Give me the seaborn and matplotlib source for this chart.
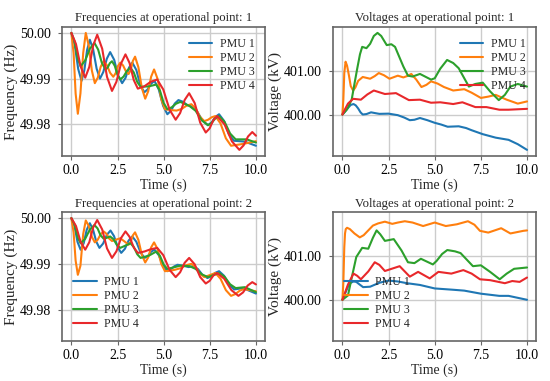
#!/usr/bin/env python3
"""Frequency and voltage traces of four PMUs at two operational points."""

import pandas as pd
import matplotlib.pyplot as plt
from matplotlib.ticker import FormatStrFormatter
import seaborn as sns

OUTPUT_FILE = "out.png"

PMUS = ["PMU 1", "PMU 2", "PMU 3", "PMU 4"]
COLORS = ["#1f77b4", "#ff7f0e", "#2ca02c", "#e8282b"]

# Frequency, operational point 1 (Hz)
FREQ1_T1 = [0, 0.18, 0.37, 0.55, 0.70, 0.85, 1.0, 1.18, 1.37, 1.55, 1.73, 1.92,
            2.1, 2.32, 2.53, 2.75, 2.93, 3.12, 3.3, 3.52, 3.73, 3.95, 4.13,
            4.32, 4.5, 4.73, 4.97, 5.2, 5.4, 5.6, 5.8, 6.03, 6.27, 6.5, 6.8,
            7.1, 7.4, 7.6, 7.8, 8.0, 8.27, 8.53, 8.8, 9.4, 10.0]
FREQ1_V1 = [50.000, 49.9974, 49.9921, 49.9895, 49.99175, 49.99625, 49.9985,
            49.99638, 49.99213, 49.990, 49.99145, 49.99435, 49.9958, 49.9941,
            49.9907, 49.989, 49.99013, 49.99238, 49.9935, 49.99188, 49.98863,
            49.987, 49.98763, 49.98888, 49.9895, 49.98768, 49.98403, 49.9822,
            49.98298, 49.98453, 49.9853, 49.98495, 49.98425, 49.9839,
            49.98288, 49.98083, 49.9798, 49.9804, 49.9816, 49.9822, 49.98075,
            49.97785, 49.9764, 49.9762, 49.9753]
FREQ1_T2 = [0, 0.12, 0.23, 0.35, 0.49, 0.64, 0.78, 0.94, 1.11, 1.27, 1.43, 1.59,
            1.75, 1.92, 2.1, 2.27, 2.4, 2.52, 2.65, 2.8, 2.95, 3.1, 3.22, 3.33,
            3.45, 3.63, 3.82, 4.0, 4.16, 4.32, 4.48, 4.68, 4.87, 5.07, 5.4,
            5.7, 5.97, 6.23, 6.5, 6.73, 6.97, 7.2, 7.4, 7.6, 7.8, 8.08, 8.37,
            8.65, 9.3, 10.0]
FREQ1_V2 = [50.000, 49.99558, 49.98673, 49.9823, 49.98673, 49.99558, 50.000,
            49.99725, 49.99175, 49.989, 49.9902, 49.9926, 49.9938, 49.99295,
            49.99125, 49.9904, 49.99118, 49.99273, 49.9935, 49.99288, 49.99163,
            49.991, 49.99195, 49.99385, 49.9948, 49.9925, 49.9879, 49.9856,
            49.9872, 49.9904, 49.992, 49.98983, 49.98548, 49.9833, 49.9831,
            49.983, 49.98335, 49.98405, 49.9844, 49.98348, 49.98163, 49.9807,
            49.98098, 49.98153, 49.9818, 49.98018, 49.97693, 49.9753, 49.9757,
            49.9763]
FREQ1_T3 = [0, 0.17, 0.33, 0.5, 0.75, 1.0, 1.25, 1.45, 1.65, 1.85, 1.97, 2.08,
            2.2, 2.35, 2.5, 2.65, 2.83, 3.02, 3.2, 3.38, 3.57, 3.75, 4.2, 4.6,
            4.8, 5.0, 5.2, 5.43, 5.67, 5.9, 6.4, 6.73, 7.07, 7.4, 7.6, 7.8,
            8.0, 8.3, 8.6, 8.9, 9.5, 10.0]
FREQ1_V3 = [50.000, 49.99818, 49.99453, 49.9927, 49.99398, 49.99653, 49.9978,
            49.99635, 49.99345, 49.992, 49.99245, 49.99335, 49.9938, 49.9928,
            49.9908, 49.9898, 49.99045, 49.99175, 49.9924, 49.99135, 49.98925,
            49.9882, 49.9883, 49.9887, 49.98735, 49.98465, 49.9833, 49.9837,
            49.9845, 49.9849, 49.9840, 49.98295, 49.98085, 49.9798, 49.9803,
            49.9813, 49.9818, 49.98053, 49.97798, 49.9767, 49.9767, 49.976]
FREQ1_T4 = [0, 0.25, 0.5, 0.75, 0.97, 1.18, 1.4, 1.67, 1.93, 2.2, 2.44, 2.69,
            2.93, 3.15, 3.38, 3.6, 3.95, 4.3, 4.65, 4.98, 5.32, 5.65, 5.89,
            6.14, 6.38, 6.68, 6.98, 7.28, 7.49, 7.69, 7.9, 8.3, 8.7, 9.1, 9.33,
            9.57, 9.8, 10.0]
FREQ1_V4 = [50.000, 49.99755, 49.99265, 49.9902, 49.99255, 49.99725, 49.9996,
            49.99653, 49.99038, 49.9873, 49.9893, 49.9933, 49.9953, 49.99343,
            49.98968, 49.9878, 49.9883, 49.9893, 49.9898, 49.9876, 49.9832,
            49.981, 49.98245, 49.98535, 49.9868, 49.98465, 49.98035, 49.9782,
            49.9791, 49.9809, 49.9818, 49.97995, 49.97625, 49.9744, 49.97538,
            49.97733, 49.9783, 49.9775]

# Frequency, operational point 2 (Hz)
FREQ2_T1 = [0, 0.17, 0.33, 0.5, 0.67, 0.83, 1.0, 1.17, 1.35, 1.52, 1.72, 1.92,
            2.12, 2.31, 2.51, 2.7, 2.9, 3.1, 3.3, 3.52, 3.75, 3.97, 4.15, 4.32,
            4.5, 4.73, 4.97, 5.2, 5.38, 5.57, 5.75, 6.05, 6.35, 6.6, 6.86,
            7.11, 7.37, 7.58, 7.79, 8.0, 8.27, 8.55, 8.82, 9.3, 10.0]
FREQ2_V1 = [50.000, 49.99828, 49.99483, 49.9931, 49.99455, 49.99745, 49.9989,
            49.99755, 49.99485, 49.9935, 49.99445, 49.99635, 49.9973,
            49.99608, 49.99363, 49.9924, 49.9933, 49.9951, 49.996, 49.99483,
            49.99248, 49.9913, 49.99175, 49.99265, 49.9931, 49.99193, 49.98958,
            49.9884, 49.98875, 49.98945, 49.9898, 49.9896, 49.9893, 49.9895,
            49.98885, 49.98755, 49.9869, 49.98728, 49.98803, 49.9884, 49.9874,
            49.9854, 49.9844, 49.9847, 49.9835]
FREQ2_T2 = [0, 0.12, 0.23, 0.35, 0.49, 0.64, 0.78, 0.94, 1.11, 1.27, 1.43, 1.59,
            1.75, 1.9, 2.05, 2.2, 2.42, 2.65, 2.88, 3.1, 3.22, 3.33, 3.45, 3.63,
            3.82, 4.0, 4.16, 4.32, 4.48, 4.68, 4.87, 5.07, 5.33, 5.6, 5.9, 6.2,
            6.5, 6.73, 6.97, 7.2, 7.5, 7.8, 8.08, 8.37, 8.65, 8.88, 9.12, 9.35,
            10.0]
FREQ2_V2 = [50.000, 49.9969, 49.9907, 49.9876, 49.98958, 49.99653, 49.9995,
            49.9983, 49.9959, 49.9947, 49.9953, 49.9965, 49.9971, 49.99658,
            49.99553, 49.995, 49.9953, 49.9956, 49.9949, 49.9942, 49.99488,
            49.99623, 49.9969, 49.99525, 49.99195, 49.9903, 49.9914, 49.9936,
            49.9947, 49.99313, 49.98998, 49.9884, 49.9885, 49.9887, 49.98903,
            49.98968, 49.990, 49.98928, 49.98783, 49.9871, 49.98755, 49.988,
            49.98675, 49.98425, 49.983, 49.98338, 49.98413, 49.9845, 49.984]
FREQ2_T3 = [0, 0.17, 0.33, 0.5, 0.75, 1.0, 1.25, 1.42, 1.58, 1.75, 1.92, 2.1,
            2.28, 2.47, 2.65, 2.93, 3.2, 3.38, 3.57, 3.75, 4.2, 4.6, 4.8, 5.0,
            5.2, 5.55, 5.9, 6.4, 6.73, 7.07, 7.4, 7.7, 8.0, 8.3, 8.6, 8.9, 9.4,
            10.0]
FREQ2_V3 = [50.000, 49.99863, 49.99588, 49.9945, 49.9955, 49.9975, 49.9985,
            49.99775, 49.99625, 49.9955, 49.9957, 49.996, 49.99538, 49.99413,
            49.9935, 49.994, 49.9945, 49.9937, 49.9921, 49.9913, 49.9918,
            49.9927, 49.99175, 49.98985, 49.9889, 49.98925, 49.9896, 49.9895,
            49.9889, 49.9877, 49.9871, 49.98755, 49.988, 49.98718, 49.98553,
            49.9847, 49.9849, 49.9838]
FREQ2_T4 = [0, 0.25, 0.5, 0.75, 0.97, 1.18, 1.4, 1.67, 1.93, 2.2, 2.44, 2.69,
            2.93, 3.15, 3.38, 3.6, 3.95, 4.3, 4.65, 4.98, 5.32, 5.65, 5.89,
            6.14, 6.38, 6.68, 6.98, 7.28, 7.49, 7.69, 7.9, 8.28, 8.67, 9.05,
            9.3, 9.55, 9.8, 10.0]
FREQ2_V4 = [50.000, 49.99828, 49.99483, 49.9931, 49.99473, 49.99798, 49.9996,
            49.99753, 49.99338, 49.9913, 49.99275, 49.99565, 49.9971, 49.99593,
            49.99358, 49.9924, 49.9927, 49.9932, 49.9935, 49.9919, 49.9887,
            49.9871, 49.98815, 49.99025, 49.9913, 49.9899, 49.9871, 49.9857,
            49.98628, 49.98743, 49.988, 49.98675, 49.98425, 49.983, 49.98375,
            49.98525, 49.986, 49.9855]

# Voltage, operational point 1 (kV)
VOLT1_T1 = [0, 0.15, 0.3, 0.45, 0.6, 0.72, 0.85, 0.98, 1.1, 1.3, 1.55, 1.8,
            2.0, 2.5, 3.0, 3.35, 3.65, 3.9, 4.2, 4.6, 5.0, 5.35, 5.7, 6.3, 6.7,
            7.0, 7.6, 8.3, 9.0, 9.5, 10.0]
VOLT1_V1 = [400.00, 400.07, 400.15, 400.22, 400.24, 400.21, 400.14, 400.05,
            400.00, 400.01, 400.05, 400.03, 400.015, 400.02, 399.985, 399.93,
            399.87, 399.88, 399.92, 399.87, 399.81, 399.77, 399.72, 399.73,
            399.69, 399.64, 399.55, 399.47, 399.42, 399.32, 399.19]
VOLT1_T2 = [0, 0.05, 0.1, 0.17, 0.25, 0.35, 0.45, 0.58, 0.7, 0.85, 1.1, 1.3,
            1.5, 1.75, 1.97, 2.25, 2.55, 3.0, 3.3, 3.5, 3.73, 4.0, 4.28, 4.55,
            4.8, 5.15, 5.5, 6.0, 6.6, 7.0, 7.5, 7.9, 8.3, 8.9, 9.5, 10.0]
VOLT1_V2 = [400.00, 400.35, 400.95, 401.21, 401.12, 400.90, 400.65, 400.55,
            400.62, 400.77, 400.86, 400.84, 400.82, 400.88, 400.95, 400.90,
            400.82, 400.89, 400.85, 400.88, 400.93, 400.80, 400.63, 400.68,
            400.76, 400.71, 400.63, 400.55, 400.58, 400.50, 400.38, 400.41,
            400.45, 400.34, 400.25, 400.30]
VOLT1_T3 = [0, 0.25, 0.5, 0.65, 0.8, 0.95, 1.07, 1.3, 1.5, 1.7, 1.9, 2.1, 2.4,
            2.65, 2.85, 3.0, 3.3, 3.55, 3.8, 4.2, 4.8, 5.0, 5.3, 5.67, 6.0,
            6.3, 6.85, 7.2, 7.6, 8.0, 8.47, 8.8, 9.1, 9.5, 10.0]
VOLT1_V3 = [400.00, 400.12, 400.34, 400.70, 401.05, 401.38, 401.55, 401.52,
            401.62, 401.80, 401.87, 401.80, 401.59, 401.61, 401.55, 401.40,
            401.10, 400.89, 400.87, 400.93, 400.80, 400.83, 401.05, 401.25,
            401.18, 401.06, 400.64, 400.70, 400.73, 400.53, 400.33, 400.45,
            400.64, 400.70, 400.64]
VOLT1_T4 = [0, 0.15, 0.3, 0.58, 1.0, 1.35, 1.7, 2.0, 2.3, 2.9, 3.25, 3.6, 4.2,
            4.8, 5.3, 6.0, 6.5, 7.2, 7.8, 8.5, 9.0, 10.0]
VOLT1_V4 = [400.00, 400.13, 400.25, 400.36, 400.34, 400.46, 400.55, 400.51,
            400.47, 400.49, 400.41, 400.33, 400.34, 400.27, 400.28, 400.24,
            400.28, 400.17, 400.17, 400.11, 400.11, 400.13]

# Voltage, operational point 2 (kV)
VOLT2_T1 = [0, 0.15, 0.3, 0.45, 0.6, 0.75, 0.9, 1.12, 1.5, 2.0, 2.5, 3.0, 3.5,
            4.2, 5.0, 6.0, 6.6, 7.5, 8.5, 9.0, 10.0]
VOLT2_V1 = [400.00, 400.15, 400.30, 400.39, 400.42, 400.41, 400.36, 400.29,
            400.30, 400.39, 400.44, 400.42, 400.38, 400.34, 400.26, 400.23,
            400.21, 400.14, 400.09, 400.09, 400.00]
VOLT2_T2 = [0, 0.05, 0.1, 0.14, 0.18, 0.25, 0.4, 0.65, 0.94, 1.15, 1.4, 1.65,
            1.93, 2.3, 2.7, 3.0, 3.38, 3.8, 4.37, 5.0, 5.6, 6.2, 6.8, 7.15,
            7.45, 7.9, 8.6, 9.1, 9.8, 10.0]
VOLT2_V2 = [400.00, 400.40, 401.20, 401.52, 401.62, 401.65, 401.62, 401.52,
            401.43, 401.48, 401.59, 401.70, 401.75, 401.79, 401.74, 401.77,
            401.80, 401.77, 401.69, 401.77, 401.69, 401.73, 401.80, 401.72,
            401.58, 401.54, 401.64, 401.52, 401.58, 401.59]
VOLT2_T3 = [0, 0.3, 0.5, 0.75, 1.07, 1.4, 1.65, 1.85, 2.05, 2.3, 2.78, 3.2,
            3.55, 3.9, 4.25, 4.9, 5.1, 5.4, 5.68, 6.1, 6.4, 7.07, 7.5, 8.0,
            8.52, 8.9, 9.3, 10.0]
VOLT2_V3 = [400.00, 400.10, 400.50, 400.98, 401.19, 401.17, 401.42, 401.59,
            401.50, 401.35, 401.39, 401.13, 400.86, 400.84, 400.94, 400.81,
            400.89, 401.05, 401.14, 401.11, 401.07, 400.77, 400.79, 400.64,
            400.47, 400.60, 400.71, 400.74]
VOLT2_T4 = [0, 0.3, 0.6, 0.8, 1.0, 1.4, 1.75, 2.0, 2.3, 3.1, 3.65, 4.1, 4.73,
            5.2, 5.9, 6.55, 7.0, 7.45, 8.0, 8.8, 9.2, 9.6, 10.0]
VOLT2_V4 = [400.00, 400.35, 400.60, 400.55, 400.47, 400.65, 400.86, 400.80,
            400.66, 400.77, 400.53, 400.64, 400.49, 400.64, 400.60, 400.68,
            400.60, 400.47, 400.45, 400.38, 400.43, 400.41, 400.51]

PANELS = [
    ("Frequencies at operational point: 1", "Frequency (Hz)",
     [FREQ1_T1, FREQ1_T2, FREQ1_T3, FREQ1_T4],
     [FREQ1_V1, FREQ1_V2, FREQ1_V3, FREQ1_V4], "upper right"),
    ("Voltages at operational point: 1", "Voltage (kV)",
     [VOLT1_T1, VOLT1_T2, VOLT1_T3, VOLT1_T4],
     [VOLT1_V1, VOLT1_V2, VOLT1_V3, VOLT1_V4], "upper right"),
    ("Frequencies at operational point: 2", "Frequency (Hz)",
     [FREQ2_T1, FREQ2_T2, FREQ2_T3, FREQ2_T4],
     [FREQ2_V1, FREQ2_V2, FREQ2_V3, FREQ2_V4], "lower left"),
    ("Voltages at operational point: 2", "Voltage (kV)",
     [VOLT2_T1, VOLT2_T2, VOLT2_T3, VOLT2_T4],
     [VOLT2_V1, VOLT2_V2, VOLT2_V3, VOLT2_V4], "lower left"),
]

sns.set_style("whitegrid", {"axes.edgecolor": "0.4", "grid.color": "0.8",
                            "xtick.bottom": True, "ytick.left": True})
plt.rcParams['font.family'] = ['Liberation Serif', 'DejaVu Serif']
plt.rcParams['axes.linewidth'] = 1.2
plt.rcParams['grid.linewidth'] = 1.0
plt.rcParams['xtick.color'] = '0.4'
plt.rcParams['ytick.color'] = '0.4'
plt.rcParams['xtick.labelcolor'] = 'black'
plt.rcParams['ytick.labelcolor'] = 'black'


def make_frame(times, values):
    """Stack the four PMU series into one long table."""
    parts = []
    for name, t, v in zip(PMUS, times, values):
        parts.append(pd.DataFrame({"Time": t, "Value": v, "PMU": name}))
    return pd.concat(parts, ignore_index=True)


def main():
    fig, axes = plt.subplots(2, 2, figsize=(5.5, 3.81), dpi=100, sharey='col')
    fig.subplots_adjust(left=0.113, right=0.975, top=0.929, bottom=0.105,
                        wspace=0.335, hspace=0.44)
    for ax, (title, ylabel, times, values, loc) in zip(axes.flat, PANELS):
        df = make_frame(times, values)
        sns.lineplot(data=df, x="Time", y="Value", hue="PMU", hue_order=PMUS,
                     palette=COLORS, linewidth=1.5, errorbar=None, ax=ax)
        ax.set_title(title, fontsize=9.2, pad=4)
        ax.set_xlabel("Time (s)", fontsize=10, labelpad=1)
        ax.set_ylabel(ylabel, fontsize=11, labelpad=1.5)
        ax.set_xticks([0, 2.5, 5, 7.5, 10])
        ax.set_xlim(-0.5, 10.5)
        ax.tick_params(axis='x', labelsize=10, length=3, width=0.8, pad=3)
        ax.tick_params(axis='y', labelsize=10, length=3, width=0.8, pad=5)
        ax.legend(loc=loc, frameon=False, fontsize=8.6, labelspacing=0.18,
                  handletextpad=0.6)
    for ax in axes[:, 0]:
        ax.set_yticks([49.98, 49.99, 50.00])
        ax.yaxis.set_major_formatter(FormatStrFormatter('%.2f'))
    for ax in axes[:, 1]:
        ax.set_yticks([400, 401])
        ax.yaxis.set_major_formatter(FormatStrFormatter('%.2f'))
    plt.savefig(OUTPUT_FILE, dpi=100)
    plt.close(fig)


if __name__ == '__main__':
    main()
